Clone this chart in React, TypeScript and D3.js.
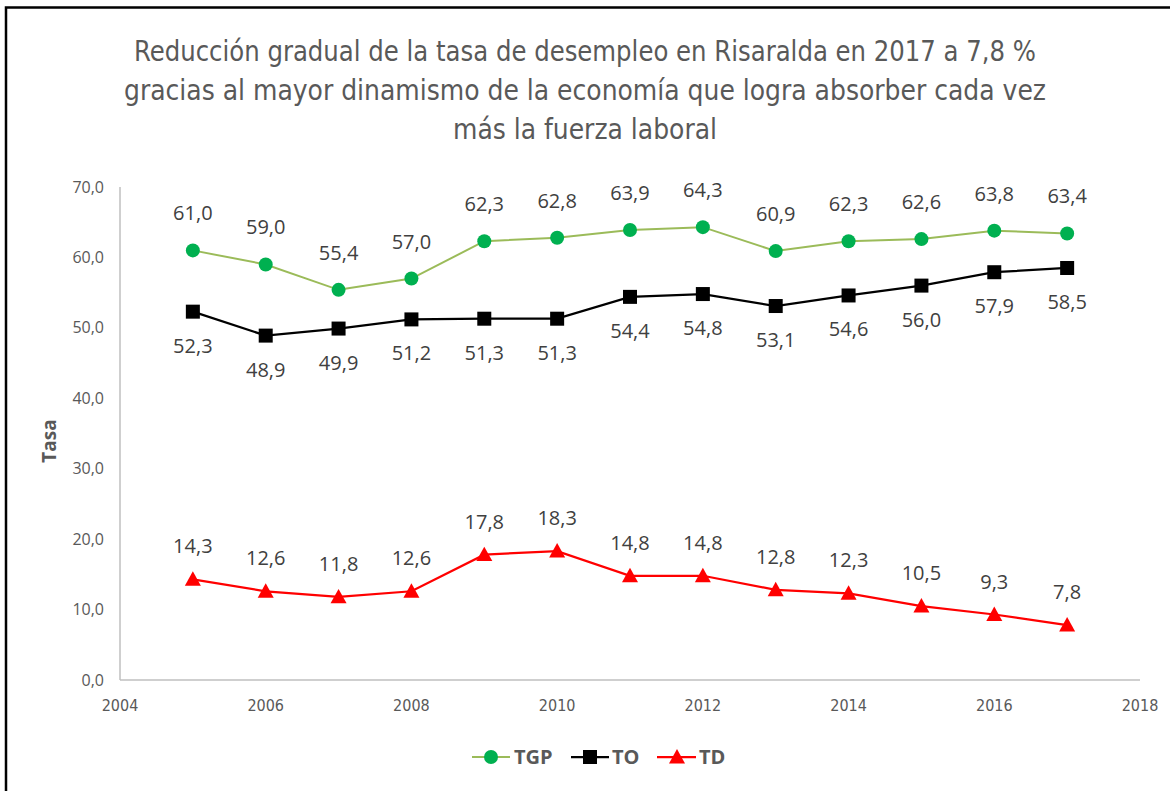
import React from "react";
import * as d3 from "d3";

const years = [2005, 2006, 2007, 2008, 2009, 2010, 2011, 2012, 2013, 2014, 2015, 2016, 2017];
const tgp = [61.0, 59.0, 55.4, 57.0, 62.3, 62.8, 63.9, 64.3, 60.9, 62.3, 62.6, 63.8, 63.4];
const to = [52.3, 48.9, 49.9, 51.2, 51.3, 51.3, 54.4, 54.8, 53.1, 54.6, 56.0, 57.9, 58.5];
const td = [14.3, 12.6, 11.8, 12.6, 17.8, 18.3, 14.8, 14.8, 12.8, 12.3, 10.5, 9.3, 7.8];
const xTicks = [2004, 2006, 2008, 2010, 2012, 2014, 2016, 2018];
const yTicks = [0, 10, 20, 30, 40, 50, 60, 70];
const titleLines = [
  "Reducción gradual de la tasa de desempleo  en Risaralda en 2017 a 7,8 %",
  "gracias al mayor dinamismo de la economía que  logra absorber cada vez",
  "más la fuerza laboral",
];
const titleWidths = [902, 922, 264];

const W = 1170;
const H = 791;
const fmt = (v: number) => v.toFixed(1).replace(".", ",");
const FONT = "'Open Sans', 'Noto Sans', sans-serif";
const NARROW = "'Liberation Sans Narrow', 'DejaVu Sans Condensed', 'Open Sans', sans-serif";

export default function App() {
  const x = d3.scaleLinear().domain([2004, 2018]).range([120, 1140]);
  const y = d3.scaleLinear().domain([0, 70]).range([680, 187]);
  const line = d3
    .line<number>()
    .x((_, i) => x(years[i]))
    .y((d) => y(d));

  const tri = (cx: number, cy: number, s = 8) =>
    `M${cx},${cy - s} L${cx + s},${cy + s * 0.8} L${cx - s},${cy + s * 0.8} Z`;

  return (
    <svg
      width={W}
      height={H}
      style={{ position: "absolute", left: 0, top: 0, background: "#fff" }}
    >
      <rect x={0} y={0} width={W} height={H} fill="#fff" />
      <rect x={6} y={7.5} width={1300} height={1000} fill="none" stroke="#000" strokeWidth={2.5} />

      {titleLines.map((t, i) => (
        <text
          key={i}
          x={585}
          y={61 + i * 39}
          textAnchor="middle"
          fontFamily={NARROW}
          fontSize={29}
          fill="#595959"
          textLength={titleWidths[i]}
          lengthAdjust="spacingAndGlyphs"
        >
          {t}
        </text>
      ))}

      {/* axes */}
      <line x1={120} x2={120} y1={187} y2={680} stroke="#BFBFBF" strokeWidth={1.5} />
      <line x1={120} x2={1140} y1={680} y2={680} stroke="#BFBFBF" strokeWidth={1.5} />

      {yTicks.map((t) => (
        <text
          key={t}
          x={104}
          y={y(t) + 5.5}
          textAnchor="end"
          fontFamily={FONT}
          fontSize={16}
          fill="#595959"
        >
          {fmt(t)}
        </text>
      ))}
      {xTicks.map((t) => (
        <text
          key={t}
          x={x(t)}
          y={711}
          textAnchor="middle"
          fontFamily={NARROW}
          fontSize={16}
          fill="#595959"
        >
          {t}
        </text>
      ))}

      <text
        transform={`translate(56,441) rotate(-90)`}
        textAnchor="middle"
        fontFamily={FONT}
        fontWeight="bold"
        fontSize={19}
        fill="#595959"
      >
        Tasa
      </text>

      {/* lines */}
      <path d={line(tgp) || ""} fill="none" stroke="#9BBB59" strokeWidth={2} />
      <path d={line(to) || ""} fill="none" stroke="#000" strokeWidth={2.25} />
      <path d={line(td) || ""} fill="none" stroke="#FF0000" strokeWidth={2.25} />

      {tgp.map((v, i) => (
        <g key={"g" + i}>
          <circle cx={x(years[i])} cy={y(v)} r={7} fill="#00B050" />
          <text
            x={x(years[i])}
            y={y(v) - 30}
            textAnchor="middle"
            fontFamily={FONT}
            fontSize={20}
            fill="#404040"
          >
            {fmt(v)}
          </text>
        </g>
      ))}
      {to.map((v, i) => (
        <g key={"o" + i}>
          <rect x={x(years[i]) - 7} y={y(v) - 7} width={14} height={14} fill="#000" />
          <text
            x={x(years[i])}
            y={y(v) + 41}
            textAnchor="middle"
            fontFamily={FONT}
            fontSize={20}
            fill="#404040"
          >
            {fmt(v)}
          </text>
        </g>
      ))}
      {td.map((v, i) => (
        <g key={"d" + i}>
          <path d={tri(x(years[i]), y(v))} fill="#FF0000" />
          <text
            x={x(years[i])}
            y={y(v) - 26}
            textAnchor="middle"
            fontFamily={FONT}
            fontSize={20}
            fill="#404040"
          >
            {fmt(v)}
          </text>
        </g>
      ))}

      {/* legend */}
      <g>
        <line x1={472} x2={510} y1={757} y2={757} stroke="#9BBB59" strokeWidth={2} />
        <circle cx={491} cy={757} r={7} fill="#00B050" />
        <text x={514} y={764} fontFamily={FONT} fontWeight="bold" fontSize={20} fill="#595959">
          TGP
        </text>
        <line x1={571} x2={609} y1={757} y2={757} stroke="#000" strokeWidth={2.25} />
        <rect x={583} y={750} width={14} height={14} fill="#000" />
        <text x={612} y={764} fontFamily={FONT} fontWeight="bold" fontSize={20} fill="#595959">
          TO
        </text>
        <line x1={657} x2={696} y1={757} y2={757} stroke="#FF0000" strokeWidth={2.25} />
        <path d={tri(677, 757)} fill="#FF0000" />
        <text x={699} y={764} fontFamily={FONT} fontWeight="bold" fontSize={20} fill="#595959">
          TD
        </text>
      </g>
    </svg>
  );
}
